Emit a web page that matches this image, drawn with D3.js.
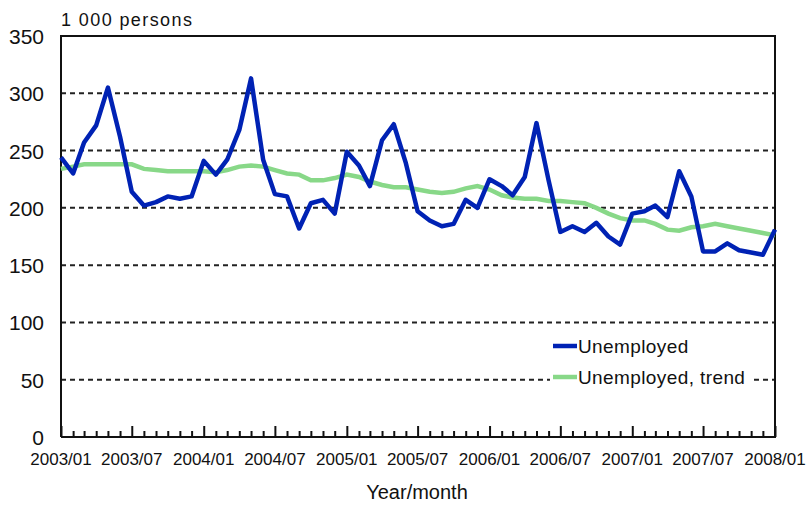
<!DOCTYPE html>
<html>
<head>
<meta charset="utf-8">
<script src="https://cdn.jsdelivr.net/npm/d3@7"></script>
<style>
  body { margin: 0; background: #fff; }
  text { font-family: "Liberation Sans", Arial, sans-serif; fill: #111; }
</style>
</head>
<body>
<script>
// monthly values, 2003/01 .. 2008/01 (1 000 persons)
const startMonth = new Date(2003, 0, 1);
const unemployed = [
  244, 230, 257, 272, 305, 262, 214, 202, 205, 210, 208, 210,
  241, 229, 242, 268, 313, 242, 212, 210, 182, 204, 207, 195,
  249, 237, 219, 259, 273, 239, 197, 189, 184, 186, 207, 200,
  225, 219, 211, 227, 274, 224, 179, 184, 179, 187, 175, 168,
  195, 197, 202, 192, 232, 210, 162, 162, 169, 163, 161, 159,
  181
];
const trend = [
  234, 236, 238, 238, 238, 238, 238, 234, 233, 232, 232, 232,
  232, 231, 233, 236, 237, 236, 233, 230, 229, 224, 224, 226,
  229, 227, 223, 220, 218, 218, 216, 214, 213, 214, 217, 219,
  216, 211, 209, 208, 208, 206, 206, 205, 204, 200, 195, 191,
  189, 189, 186, 181, 180, 183, 184, 186, 184, 182, 180, 178,
  176
];
const yTicks = [0, 50, 100, 150, 200, 250, 300, 350];
const xLabels = ["2003/01", "2003/07", "2004/01", "2004/07", "2005/01", "2005/07",
                 "2006/01", "2006/07", "2007/01", "2007/07", "2008/01"];

const w = 806, h = 507;
const plotLeft = 61, plotRight = 775, plotTop = 36, plotBottom = 437;

const months = unemployed.map((d, i) => d3.timeMonth.offset(startMonth, i));

const xScale = d3.scaleTime()
  .domain([months[0], months[months.length - 1]])
  .range([plotLeft, plotRight]);
const yScale = d3.scaleLinear()
  .domain([0, 350])
  .range([plotBottom, plotTop]);

const svg = d3.select("body").append("svg")
  .attr("width", w)
  .attr("height", h);

// dashed grid
svg.append("g")
  .selectAll("line")
  .data(yTicks.filter(d => d > 0 && d < 350))
  .enter()
  .append("line")
  .attr("x1", plotLeft).attr("x2", plotRight)
  .attr("y1", d => yScale(d)).attr("y2", d => yScale(d))
  .attr("stroke", "#222")
  .attr("stroke-width", 2)
  .attr("stroke-dasharray", "5,4");

// y labels
svg.append("g")
  .selectAll("text")
  .data(yTicks)
  .enter()
  .append("text")
  .attr("x", 44)
  .attr("y", d => yScale(d) + 8)
  .attr("text-anchor", "end")
  .style("font-size", "21px")
  .text(d => d);

// x axis with ticks pointing up, labels every 6 months
const xAxis = d3.axisBottom(xScale)
  .ticks(d3.timeMonth.every(1))
  .tickSizeInner(-6)
  .tickSizeOuter(0)
  .tickFormat("");
const gx = svg.append("g")
  .attr("transform", "translate(0," + plotBottom + ")")
  .call(xAxis);
gx.select(".domain").remove();
gx.selectAll(".tick line")
  .attr("stroke", "#111")
  .attr("stroke-width", 2)
  .attr("y2", (d, i) => i % 6 === 0 ? -11 : -6);

svg.append("g")
  .selectAll("text")
  .data(xLabels)
  .enter()
  .append("text")
  .attr("x", (d, i) => xScale(months[i * 6]))
  .attr("y", plotBottom + 28)
  .attr("text-anchor", "middle")
  .style("font-size", "17px")
  .text(d => d);

// plot frame
svg.append("path")
  .attr("d", `M${plotLeft},${plotBottom}V${plotTop}H${plotRight}V${plotBottom}H${plotLeft}`)
  .attr("fill", "none")
  .attr("stroke", "#111")
  .attr("stroke-width", 2);

const line = d3.line()
  .x((d, i) => xScale(months[i]))
  .y(d => yScale(d));

svg.append("path")
  .datum(trend)
  .attr("d", line)
  .attr("fill", "none")
  .attr("stroke", "#88d888")
  .attr("stroke-width", 4.5);

svg.append("path")
  .datum(unemployed)
  .attr("d", line)
  .attr("fill", "none")
  .attr("stroke", "#0022b4")
  .attr("stroke-width", 4.5)
  .attr("stroke-linejoin", "round");

// legend
const legend = svg.append("g");
legend.append("rect")
  .attr("x", 550).attr("y", 333)
  .attr("width", 201).attr("height", 62)
  .attr("fill", "#fff");
const items = [["Unemployed", "#0022b4"], ["Unemployed, trend", "#88d888"]];
items.forEach((it, i) => {
  const y = 346 + i * 31;
  legend.append("line")
    .attr("x1", 553).attr("x2", 577)
    .attr("y1", y).attr("y2", y)
    .attr("stroke", it[1])
    .attr("stroke-width", 4.5);
  legend.append("text")
    .attr("x", 578)
    .attr("y", y + 7)
    .style("font-size", "19px")
    .style("letter-spacing", "0.4px")
    .text(it[0]);
});

svg.append("text")
  .attr("x", 61)
  .attr("y", 26)
  .style("font-size", "18px")
  .style("letter-spacing", "1.4px")
  .text("1 000 persons");

svg.append("text")
  .attr("x", 417)
  .attr("y", 499)
  .attr("text-anchor", "middle")
  .style("font-size", "20px")
  .text("Year/month");
</script>
</body>
</html>
